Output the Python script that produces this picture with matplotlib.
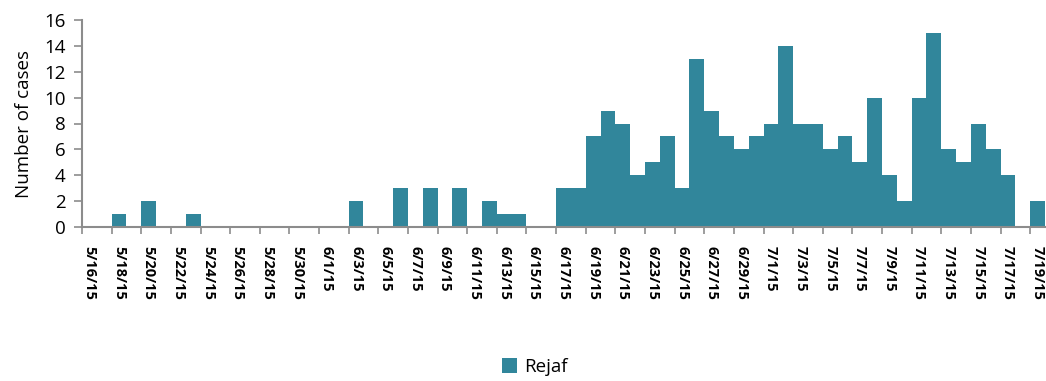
import datetime as dt

import matplotlib.pyplot as plt
import numpy as np
from matplotlib.patches import Patch

START_DATE = dt.date(2015, 5, 16)
# daily counts, 5/16/15 .. 7/19/15
CASES = [
    0, 0, 1, 0, 2, 0, 0, 1, 0, 0, 0, 0, 0, 0, 0, 0,          # May 16-31
    0, 0, 2, 0, 0, 3, 0, 3, 0, 3, 0, 2, 1, 1, 0, 0,          # Jun 1-16
    3, 3, 7, 9, 8, 4, 5, 7, 3, 13, 9, 7, 6, 7,               # Jun 17-30
    8, 14, 8, 8, 6, 7, 5, 10, 4, 2, 10, 15, 6, 5, 8, 6, 4, 0, 2,  # Jul 1-19
]
SERIES_NAME = "Rejaf"
BAR_COLOR = "#31869B"
AXIS_COLOR = "#8C8C8C"

plt.rcParams["font.family"] = ["Open Sans", "DejaVu Sans"]

dates = [START_DATE + dt.timedelta(days=i) for i in range(len(CASES))]
labels = [f"{d.month}/{d.day}/15" for d in dates]
x = np.arange(len(CASES))

fig = plt.figure(figsize=(10.46, 3.81), dpi=100)
ax = fig.add_axes([82 / 1046, 1 - 227 / 381, (1045 - 82) / 1046, (227 - 20) / 381])

ax.bar(x, CASES, width=1.0, color=BAR_COLOR, linewidth=0, zorder=2)

ax.set_xlim(-0.5, len(CASES) - 0.5)
ax.set_ylim(0, 16)
ax.set_yticks(np.arange(0, 17, 2))
ax.tick_params(axis="y", labelsize=13.5, length=6, width=1.2, color=AXIS_COLOR, pad=6)

# tick marks sit on day boundaries, labels under the day itself
ax.set_xticks(x[::2] - 0.5)
ax.set_xticklabels([])
ax.tick_params(axis="x", which="major", length=5, width=1.2, color=AXIS_COLOR)
ax.set_xticks(x[::2], minor=True)
ax.set_xticklabels(labels[::2], minor=True, rotation=-90, fontsize=10.5, fontweight="bold")
ax.tick_params(axis="x", which="minor", length=0, pad=14)

for side in ("top", "right"):
    ax.spines[side].set_visible(False)
for side in ("left", "bottom"):
    ax.spines[side].set_color(AXIS_COLOR)
    ax.spines[side].set_linewidth(1.5)

ax.set_ylabel("Number of cases", fontsize=13.5, labelpad=8)

fig.legend(
    handles=[Patch(facecolor=BAR_COLOR, edgecolor="none", label=SERIES_NAME)],
    loc="center",
    bbox_to_anchor=(535 / 1046, 1 - 367 / 381),
    frameon=False,
    fontsize=13.5,
    handlelength=0.8,
    handleheight=0.8,
    handletextpad=0.4,
)

fig.savefig("out.png", dpi=100)
